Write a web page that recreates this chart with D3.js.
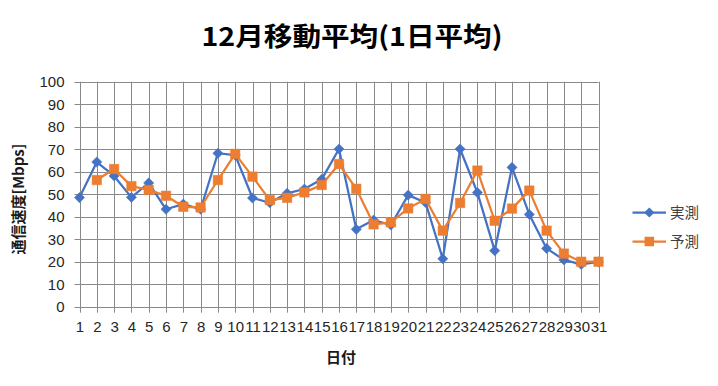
<!DOCTYPE html>
<html>
<head>
<meta charset="utf-8">
<script src="https://cdn.jsdelivr.net/npm/d3@7"></script>
<style>
  html, body { margin: 0; padding: 0; background: #fff; }
  svg { display: block; }
</style>
</head>
<body>
<div id="chart"></div>
<script>
// ---- data ----
const titleText = "12月移動平均(1日平均)";
const xTitle = "日付";
const yTitle = "通信速度[Mbps]";
const days = d3.range(1, 32);
const seriesNames = ["実測", "予測"];
const actual = [48.5, 64.3, 58.1, 48.6, 55.0, 43.3, 45.6, 43.3, 68.2, 67.4, 48.3, 46.2, 50.4, 52.3, 56.6, 70.1, 34.4, 38.5, 36.3, 49.6, 46.3, 21.3, 70.1, 50.7, 24.9, 61.9, 41.0, 25.9, 20.8, 18.8, 19.9];
const forecast = [null, 56.3, 61.2, 53.6, 51.9, 49.3, 44.4, 44.1, 56.3, 67.9, 57.8, 47.4, 48.4, 50.8, 54.1, 63.4, 52.4, 36.6, 37.5, 43.7, 47.9, 33.8, 46.1, 60.5, 38.2, 43.6, 51.6, 33.8, 23.6, 20.0, 20.0];
const yTicks = [0, 10, 20, 30, 40, 50, 60, 70, 80, 90, 100];

// ---- layout ----
const W = 718, H = 386;
const colors = ["#4472C4", "#ED7D31"];
const gridColor = "#898989";
const textColor = "#262626";
const jpFont = "'Noto Sans CJK JP', sans-serif";
const numFont = "'Liberation Sans', Arial, sans-serif";

const svg = d3.select("#chart").append("svg").attr("width", W).attr("height", H);

const x = d3.scalePoint().domain(days).range([79.5, 598.5]);
const y = d3.scaleLinear().domain([0, 100]).range([306.7, 81.7]);

// grid
const g = svg.append("g");
g.selectAll(".hg").data(yTicks).join("line")
  .attr("x1", x(1) - 5).attr("x2", x(31))
  .attr("y1", d => Math.round(y(d)) + 0.5).attr("y2", d => Math.round(y(d)) + 0.5)
  .attr("stroke", gridColor).attr("stroke-width", 1);
g.selectAll(".vg").data(days).join("line")
  .attr("x1", d => Math.round(x(d)) + 0.5).attr("x2", d => Math.round(x(d)) + 0.5)
  .attr("y1", y(100)).attr("y2", y(0) + 6)
  .attr("stroke", gridColor).attr("stroke-width", 1);

// axes labels via d3 axes
const yAxis = svg.append("g").attr("transform", `translate(${x(1) - 5},0)`)
  .call(d3.axisLeft(y).tickValues(yTicks).tickSize(0).tickPadding(10));
yAxis.select(".domain").remove();
yAxis.selectAll("text").attr("font-family", numFont).attr("font-size", 15).attr("fill", textColor);

const xAxis = svg.append("g").attr("transform", `translate(0,${y(0)})`)
  .call(d3.axisBottom(x).tickSize(0).tickPadding(15));
xAxis.select(".domain").remove();
xAxis.selectAll("text").attr("font-family", numFont).attr("font-size", 15).attr("fill", textColor);

// series
const seriesData = [actual, forecast];
const line = d3.line().defined(d => d.v != null).x(d => x(d.day)).y(d => y(d.v));

seriesData.forEach((vals, i) => {
  const pts = days.map((d, k) => ({ day: d, v: vals[k] }));
  svg.append("path").datum(pts).attr("d", line)
    .attr("fill", "none").attr("stroke", colors[i]).attr("stroke-width", 2.25)
    .attr("stroke-linejoin", "round");
  const mk = svg.append("g");
  mk.selectAll("path").data(pts.filter(p => p.v != null)).join("path")
    .attr("transform", p => i === 0
      ? `translate(${x(p.day)},${y(p.v)}) rotate(45)`
      : `translate(${x(p.day)},${y(p.v)})`)
    .attr("d", i === 0 ? d3.symbol().type(d3.symbolSquare).size(52)() : d3.symbol().type(d3.symbolSquare).size(90)())
    .attr("fill", colors[i]).attr("stroke", colors[i]).attr("stroke-width", 0.5);
});

// legend
const legY = [212.5, 241.5];
seriesNames.forEach((name, i) => {
  const lg = svg.append("g").attr("transform", `translate(0,${legY[i]})`);
  lg.append("line").attr("x1", 632.5).attr("x2", 666).attr("y1", 0).attr("y2", 0)
    .attr("stroke", colors[i]).attr("stroke-width", 2.25);
  lg.append("path")
    .attr("transform", i === 0 ? "translate(649.3,0) rotate(45)" : "translate(649.3,0)")
    .attr("d", i === 0 ? d3.symbol().type(d3.symbolSquare).size(52)() : d3.symbol().type(d3.symbolSquare).size(90)())
    .attr("fill", colors[i]);
  lg.append("text").attr("x", 670).attr("y", 0).attr("dy", "0.36em")
    .attr("font-family", jpFont).attr("font-size", 14.5).attr("fill", "#404040")
    .text(name);
});

// titles
svg.append("text").attr("x", 352).attr("y", 46).attr("text-anchor", "middle")
  .attr("font-family", jpFont).attr("font-weight", "bold").attr("font-size", 26)
  .attr("fill", "#000").attr("textLength", 301).attr("lengthAdjust", "spacingAndGlyphs")
  .text(titleText);

svg.append("text").attr("x", 341).attr("y", 358).attr("dy", "0.36em").attr("text-anchor", "middle")
  .attr("font-family", jpFont).attr("font-weight", "bold").attr("font-size", 15)
  .attr("fill", "#1a1a1a").text(xTitle);

svg.append("text").attr("transform", "translate(19,199) rotate(-90)")
  .attr("dy", "0.36em").attr("text-anchor", "middle")
  .attr("font-family", jpFont).attr("font-weight", "bold").attr("font-size", 15)
  .attr("fill", "#1a1a1a").text(yTitle);
</script>
</body>
</html>
